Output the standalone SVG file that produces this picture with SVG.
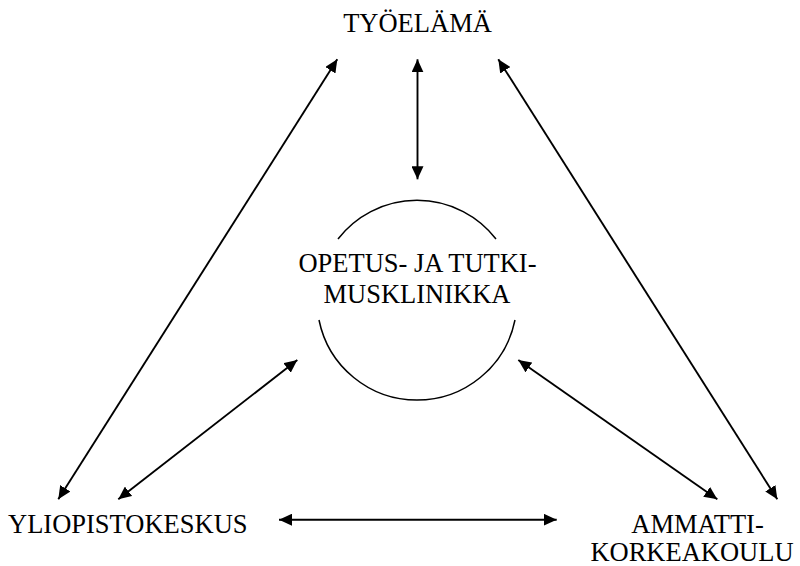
<svg xmlns="http://www.w3.org/2000/svg" width="800" height="566" viewBox="0 0 800 566">
<style>
text{font-family:'Liberation Serif','Times New Roman',Tinos,'Nimbus Roman','DejaVu Serif',serif;font-size:26.5px;fill:#000}
.c{text-anchor:middle}
.ln{stroke:#000;stroke-width:1.9;fill:none;marker-start:url(#ah);marker-end:url(#ah)}
.arc{stroke:#000;stroke-width:1.5;fill:none}
</style>
<defs>
<marker id="ah" markerUnits="userSpaceOnUse" markerWidth="14" markerHeight="12" refX="13" refY="6" orient="auto-start-reverse" viewBox="0 0 14 12">
<path d="M0,0 L13,6 L0,12 z" fill="#000"/>
</marker>
</defs>
<rect width="800" height="566" fill="#fff"/>
<g id="connectors">
<line class="ln" x1="337.3" y1="59.3" x2="58.3" y2="499.3"/>
<line class="ln" x1="417.5" y1="59.3" x2="417.5" y2="179.3"/>
<line class="ln" x1="498.3" y1="59.3" x2="777.3" y2="499.3"/>
<line class="ln" x1="297.3" y1="360" x2="118.3" y2="499.3"/>
<line class="ln" x1="518.3" y1="360" x2="717.3" y2="499.3"/>
<line class="ln" x1="279" y1="519.7" x2="556.7" y2="519.7"/>
</g>
<g id="tyoelama" font-family="Liberation Serif, serif">
<text class="c" x="417.5" y="32">TYÖELÄMÄ</text>
</g>
<g id="klinikka" font-family="Liberation Serif, serif">
<path class="arc" d="M338,239 A100,100 0 0 1 496,239"/>
<path class="arc" d="M515,320 A100,100 0 0 1 319,320"/>
<text class="c" x="417.5" y="271.7">OPETUS- JA TUTKI-</text>
<text class="c" x="417" y="303.3">MUSKLINIKKA</text>
</g>
<g id="yliopistokeskus" font-family="Liberation Serif, serif">
<text x="8" y="532.7">YLIOPISTOKESKUS</text>
</g>
<g id="amk" font-family="Liberation Serif, serif">
<text class="c" x="697.5" y="532.7">AMMATTI-</text>
<text class="c" x="692" y="561">KORKEAKOULU</text>
</g>
</svg>
